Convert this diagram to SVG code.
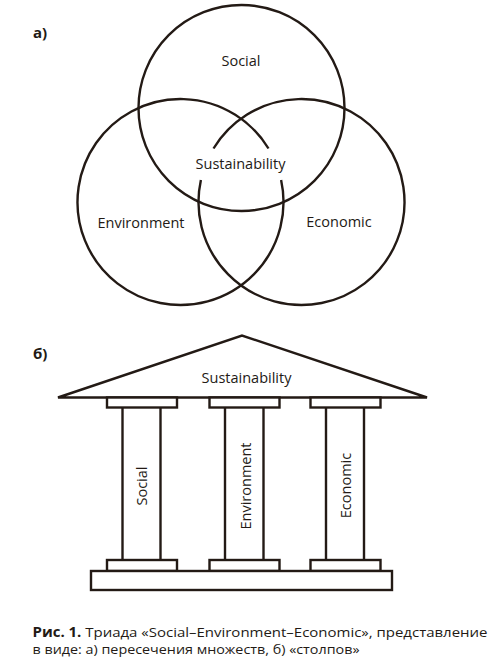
<svg xmlns="http://www.w3.org/2000/svg" width="500" height="672" viewBox="0 0 500 672">
<style>
.ln{fill:none;stroke:#231a15;stroke-width:2.4}
.bx{fill:#fff;stroke:#231a15;stroke-width:2.4}
.t{font-family:"Open Sans","Liberation Sans",sans-serif;font-size:14.5px;fill:#231a15}
.lb{font-family:"Open Sans","Liberation Sans",sans-serif;font-size:15px;font-weight:bold;fill:#231a15}
.cap{font-family:"Open Sans","Liberation Sans",sans-serif;font-size:13.5px;fill:#231a15}
</style>
<rect width="500" height="672" fill="#fff"/>
<text class="lb" x="33" y="37.5">a)</text>
<g id="venn-connectors">
<circle id="social-circle" class="ln" cx="241.5" cy="108" r="103"/>
<path id="environment-circle" class="ln" d="M281.1 179.9 A103 103 0 1 1 268.5 148.5"/>
<path id="economic-circle" class="ln" d="M213.5 148.5 A103 103 0 1 1 200.9 179.9"/>
</g>
<g id="venn-social"><text class="t" x="241" y="66" text-anchor="middle">Social</text></g>
<g id="venn-sustainability"><text class="t" x="240.5" y="169" text-anchor="middle">Sustainability</text></g>
<g id="venn-environment"><text class="t" x="141" y="228" text-anchor="middle">Environment</text></g>
<g id="venn-economic"><text class="t" x="339" y="226.5" text-anchor="middle">Economic</text></g>

<text class="lb" x="33" y="358.5">б)</text>
<g id="roof">
<path class="ln" d="M58 397.5 L242 335.5 L427 397.5 Z" stroke-linejoin="miter"/>
<text class="t" x="246.5" y="383" text-anchor="middle">Sustainability</text>
</g>
<g id="pillar-social">
<rect class="bx" x="107" y="397.5" width="70" height="10"/>
<line class="ln" x1="122.5" y1="407.5" x2="122.5" y2="560"/>
<line class="ln" x1="160.5" y1="407.5" x2="160.5" y2="560"/>
<rect class="bx" x="107" y="560" width="70" height="11"/>
<text class="t" transform="translate(147 486) rotate(-90)" text-anchor="middle">Social</text>
</g>
<g id="pillar-environment">
<rect class="bx" x="209.5" y="397.5" width="70" height="10"/>
<line class="ln" x1="225" y1="407.5" x2="225" y2="560"/>
<line class="ln" x1="263.5" y1="407.5" x2="263.5" y2="560"/>
<rect class="bx" x="209.5" y="560" width="70" height="11"/>
<text class="t" transform="translate(250.5 486) rotate(-90)" text-anchor="middle">Environment</text>
</g>
<g id="pillar-economic">
<rect class="bx" x="310.5" y="397.5" width="70" height="10"/>
<line class="ln" x1="326" y1="407.5" x2="326" y2="560"/>
<line class="ln" x1="364" y1="407.5" x2="364" y2="560"/>
<rect class="bx" x="310.5" y="560" width="70" height="11"/>
<text class="t" transform="translate(350.5 485.5) rotate(-90)" text-anchor="middle">Economic</text>
</g>
<g id="base">
<rect class="bx" x="91" y="571" width="301" height="19"/>
</g>
<g id="caption">
<text class="cap" x="32.5" y="636.5" textLength="455" lengthAdjust="spacingAndGlyphs"><tspan font-weight="bold">Рис. 1.</tspan> Триада «Social–Environment–Economic», представление</text>
<text class="cap" x="32.5" y="653.5" textLength="327" lengthAdjust="spacingAndGlyphs">в виде: а) пересечения множеств, б) «столпов»</text>
</g>
</svg>
